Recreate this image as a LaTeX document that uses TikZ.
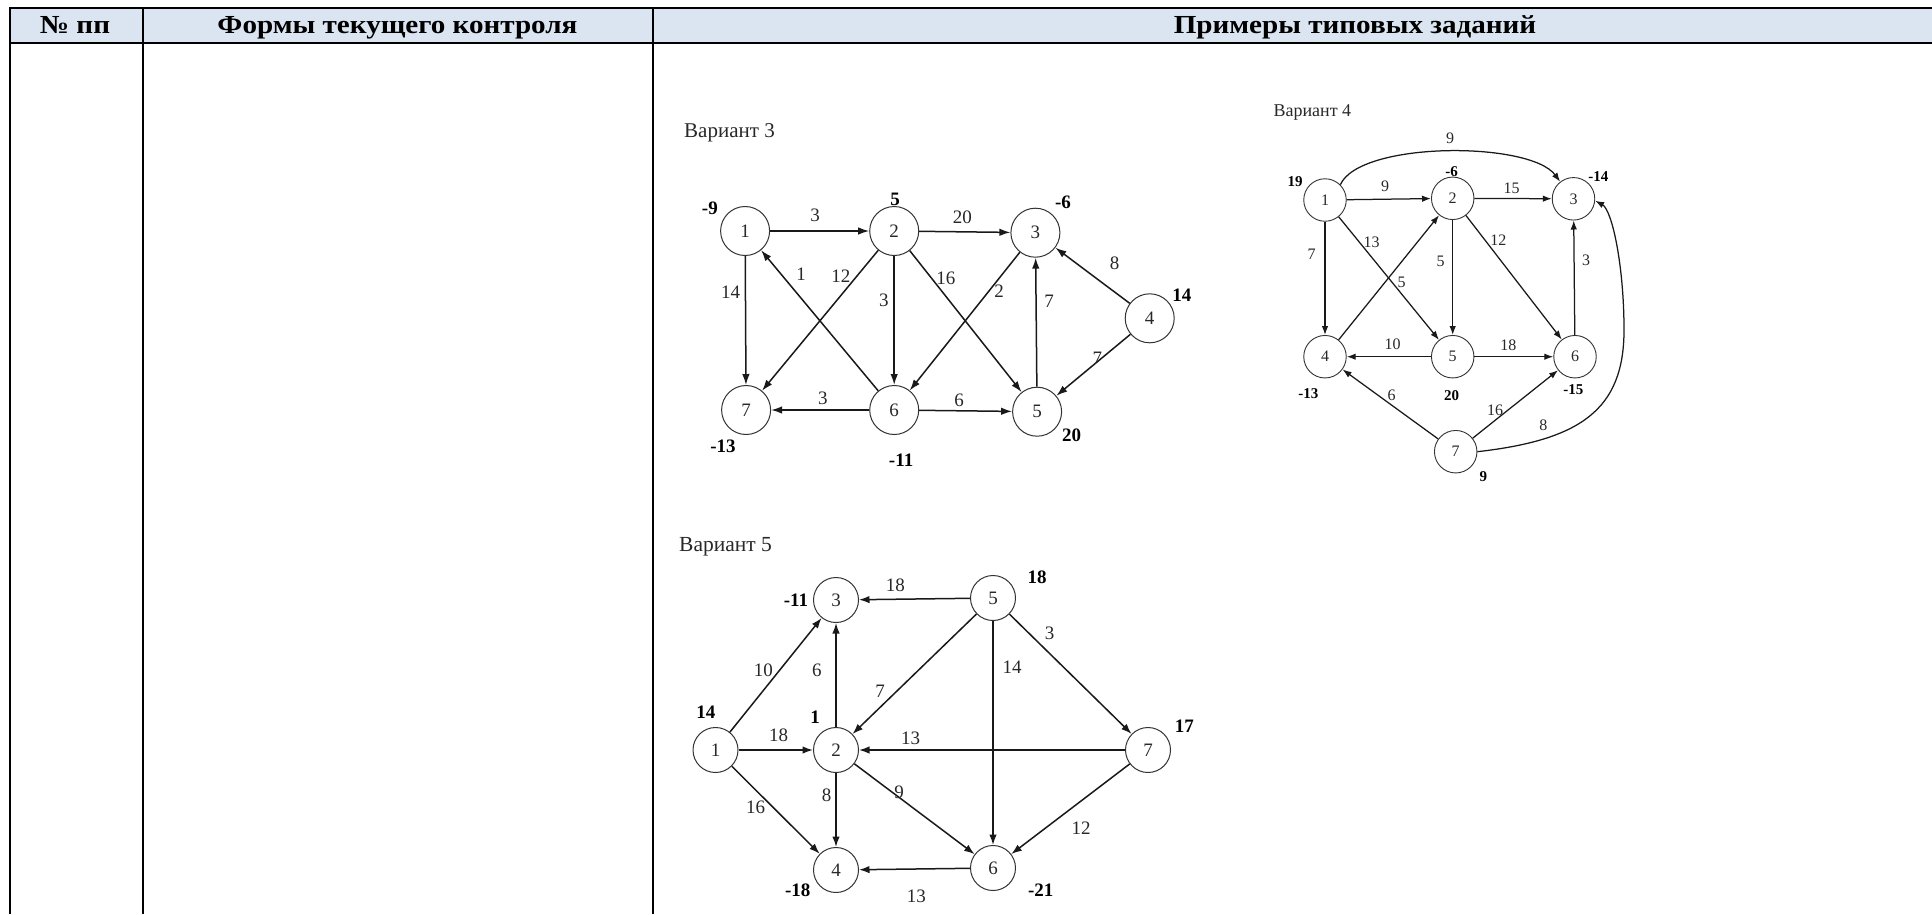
\documentclass[tikz,border=0pt]{standalone}
\usepackage{fontspec}
\usepackage{graphicx}
\setmainfont{Liberation Serif}
\usetikzlibrary{arrows.meta}
\definecolor{hdrblue}{RGB}{219,229,241}
\definecolor{gtext}{RGB}{40,40,40}
\newcommand{\hstretch}[1]{\scalebox{1.12}[1]{#1}}
\begin{document}
\begin{tikzpicture}[x=1pt,y=-1pt,
  hdr/.style={inner sep=0pt, anchor=base, font=\fontsize{26}{26}\selectfont\bfseries},
  rule/.style={line width=1.8pt, black},
  vA/.style={circle, draw=black!80, line width=1pt, minimum size=49pt, inner sep=0pt, text=gtext, font=\fontsize{19}{19}\selectfont},
  vB/.style={circle, draw=black!80, line width=0.9pt, minimum size=42.5pt, inner sep=0pt, text=gtext, font=\fontsize{16}{16}\selectfont},
  vC/.style={circle, draw=black!80, line width=1pt, minimum size=45pt, inner sep=0pt, text=gtext, font=\fontsize{19}{19}\selectfont},
  wA/.style={inner sep=0pt, text=gtext, font=\fontsize{19}{19}\selectfont},
  bA/.style={inner sep=0pt, text=black, font=\fontsize{19}{19}\selectfont\bfseries},
  wB/.style={inner sep=0pt, text=gtext, font=\fontsize{16}{16}\selectfont},
  bB/.style={inner sep=0pt, text=black, font=\fontsize{15}{15}\selectfont\bfseries},
  wC/.style={inner sep=0pt, text=gtext, font=\fontsize{19}{19}\selectfont},
  bC/.style={inner sep=0pt, text=black, font=\fontsize{19}{19}\selectfont\bfseries},
  ttl/.style={inner sep=0pt, anchor=base west, text=gtext},
  eA/.style={line width=1.5pt, black!90, -{Latex[length=11pt,width=7.5pt]}},
  eB/.style={line width=1.25pt, black!90, -{Latex[length=9pt,width=6.5pt]}},
  eC/.style={line width=1.5pt, black!90, -{Latex[length=10.5pt,width=7.5pt]}}
]
\useasboundingbox (0,0) rectangle (1932,914);
\fill[white] (0,0) rectangle (1932,914);
% table
\fill[hdrblue] (10,8) rectangle (1932,42.5);
\draw[rule] (9.3,8.2) -- (1932,8.2);
\draw[rule, line width=2pt] (9.3,42.6) -- (1932,42.6);
\draw[rule] (10.2,7.3) -- (10.2,914);
\draw[rule] (143.3,8.2) -- (143.3,914);
\draw[rule] (652.7,8.2) -- (652.7,914);
\node[hdr] (h1) at (75,33.3) {\hstretch{№ пп}};
\node[hdr] (h2) at (397.5,33.3) {\hstretch{Формы текущего контроля}};
\node[hdr] (h3) at (1355,33.3) {\hstretch{Примеры типовых заданий}};

% ---------------- Variant 3 ----------------
\node[ttl, font=\fontsize{21}{21}\selectfont] (t3) at (684,137.7) {Вариант 3};
\node[vA] (a1) at (745.1,231) {1};
\node[vA] (a2) at (894.2,231) {2};
\node[vA] (a3) at (1035.4,232.7) {3};
\node[vA] (a4) at (1149.7,318.3) {4};
\node[vA] (a5) at (1037.1,411.7) {5};
\node[vA] (a6) at (894.2,410) {6};
\node[vA] (a7) at (746.1,410) {7};
\draw[eA] (a1) -- (a2);
\draw[eA] (a2) -- (a3);
\draw[eA] (a1) -- (a7);
\draw[eA] (a6) -- (a1);
\draw[eA] (a2) -- (a7);
\draw[eA] (a2) -- (a6);
\draw[eA] (a2) -- (a5);
\draw[eA] (a3) -- (a6);
\draw[eA] (a5) -- (a3);
\draw[eA] (a4) -- (a3);
\draw[eA] (a4) -- (a5);
\draw[eA] (a6) -- (a7);
\draw[eA] (a6) -- (a5);
\node[bA] (sa1) at (709.9,208.3) {-9};
\node[bA] (sa2) at (895.2,199) {5};
\node[bA] (sa3) at (1063,202.7) {-6};
\node[bA] (sa4) at (1181.8,295) {14};
\node[bA] (sa5) at (1071.6,435) {20};
\node[bA] (sa6) at (901.1,460) {-11};
\node[bA] (sa7) at (723,446.7) {-13};
\node[wA] (la12) at (815,215) {3};
\node[wA] (la23) at (962.4,217.3) {20};
\node[wA] (la17) at (730.6,292.7) {14};
\node[wA] (la61) at (801.2,274) {1};
\node[wA] (la27) at (840.8,276.7) {12};
\node[wA] (la26) at (883.9,300) {3};
\node[wA] (la25) at (945.9,278.3) {16};
\node[wA] (la36) at (999.2,291.7) {2};
\node[wA] (la53) at (1049.2,301.7) {7};
\node[wA] (la43) at (1114.6,263.3) {8};
\node[wA] (la45) at (1097.4,358.3) {7};
\node[wA] (la67) at (822.9,398.3) {3};
\node[wA] (la65) at (959,400) {6};

% ---------------- Variant 4 ----------------
\node[ttl, font=\fontsize{18}{18}\selectfont] (t4) at (1273.3,116) {Вариант 4};
\node[vB] (b1) at (1325,200) {1};
\node[vB] (b2) at (1452.7,198.3) {2};
\node[vB] (b3) at (1573.5,198.8) {3};
\node[vB] (b4) at (1325,356.7) {4};
\node[vB] (b5) at (1452.7,356.7) {5};
\node[vB] (b6) at (1575,356.7) {6};
\node[vB] (b7) at (1455.7,451.7) {7};
\draw[eB] (b1.45) .. controls (1360,141) and (1530,141) .. (b3.128);
\draw[eB] (b1) -- (b2);
\draw[eB] (b2) -- (b3);
\draw[eB] (b1) -- (b4);
\draw[eB] (b1) -- (b5);
\draw[eB] (b4) -- (b2);
\draw[eB] (b2) -- (b5);
\draw[eB] (b2) -- (b6);
\draw[eB] (b6) -- (b3);
\draw[eB] (b5) -- (b4);
\draw[eB] (b5) -- (b6);
\draw[eB] (b7) -- (b4);
\draw[eB] (b7) -- (b6);
\coordinate (b7c) at (1624,330);
\draw[eB] (b7.east) .. controls (1580,440) and (1624,410) .. (b7c)
  .. controls (1624,265) and (1612,210) .. (b3.-5);
\node[bB] (sb1) at (1295,181.7) {19};
\node[bB] (sb2) at (1451.7,171.7) {-6};
\node[bB] (sb3) at (1598.3,176.7) {-14};
\node[bB] (sb4) at (1308.3,394) {-13};
\node[bB] (sb5) at (1451.7,396) {20};
\node[bB] (sb6) at (1573.3,390) {-15};
\node[bB] (sb7) at (1483.3,476.7) {9};
\node[wB] (lb13) at (1450,138.3) {9};
\node[wB] (lb12) at (1385,186.7) {9};
\node[wB] (lb23) at (1511.7,188.3) {15};
\node[wB] (lb14) at (1311.7,254) {7};
\node[wB] (lb15) at (1371.7,242.7) {13};
\node[wB] (lb42) at (1401.7,282.7) {5};
\node[wB] (lb25) at (1440.7,261.7) {5};
\node[wB] (lb26) at (1498.3,240) {12};
\node[wB] (lb63) at (1586,260.7) {3};
\node[wB] (lb54) at (1392.7,344) {10};
\node[wB] (lb56) at (1508.3,345) {18};
\node[wB] (lb74) at (1391.7,395) {6};
\node[wB] (lb76) at (1495,410) {16};
\node[wB] (lb73) at (1543.3,425) {8};

% ---------------- Variant 5 ----------------
\node[ttl, font=\fontsize{21.5}{21.5}\selectfont] (t5) at (679,551) {Вариант 5};
\node[vC] (c1) at (715.5,750) {1};
\node[vC] (c2) at (836,750) {2};
\node[vC] (c3) at (836,600) {3};
\node[vC] (c4) at (836,870) {4};
\node[vC] (c5) at (993,598) {5};
\node[vC] (c6) at (993,868) {6};
\node[vC] (c7) at (1148,750) {7};
\draw[eC] (c5) -- (c3);
\draw[eC] (c1) -- (c3);
\draw[eC] (c2) -- (c3);
\draw[eC] (c5) -- (c2);
\draw[eC] (c5) -- (c7);
\draw[eC] (c5) -- (c6);
\draw[eC] (c1) -- (c2);
\draw[eC] (c7) -- (c2);
\draw[eC] (c2) -- (c4);
\draw[eC] (c2) -- (c6);
\draw[eC] (c1) -- (c4);
\draw[eC] (c7) -- (c6);
\draw[eC] (c6) -- (c4);
\node[bC] (sc5) at (1037,577.3) {18};
\node[bC] (sc3) at (795.9,600) {-11};
\node[bC] (sc1) at (705.9,712.7) {14};
\node[bC] (sc2) at (815,717.3) {1};
\node[bC] (sc7) at (1184.3,726.7) {17};
\node[bC] (sc4) at (797.8,890) {-18};
\node[bC] (sc6) at (1040.8,890) {-21};
\node[wC] (lc53) at (895.4,585.7) {18};
\node[wC] (lc13) at (763.3,670.7) {10};
\node[wC] (lc23) at (816.9,670.7) {6};
\node[wC] (lc52) at (880,691.7) {7};
\node[wC] (lc57) at (1049.6,633.3) {3};
\node[wC] (lc56) at (1012,667.3) {14};
\node[wC] (lc12) at (778.6,735) {18};
\node[wC] (lc72) at (910.7,738.3) {13};
\node[wC] (lc24) at (826.5,795) {8};
\node[wC] (lc26) at (899.2,792.7) {9};
\node[wC] (lc14) at (755.7,807.3) {16};
\node[wC] (lc76) at (1081,828.3) {12};
\node[wC] (lc64) at (916.4,896.7) {13};
\end{tikzpicture}
\end{document}
